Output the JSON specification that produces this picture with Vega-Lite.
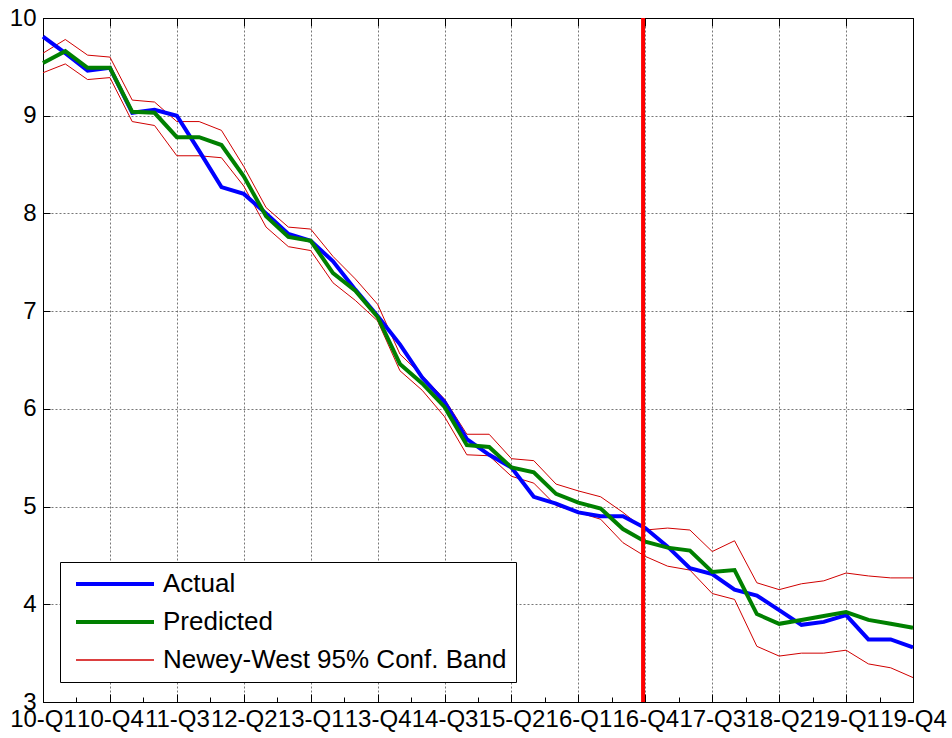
{
  "$schema": "https://vega.github.io/schema/vega-lite/v6.json",
  "width": 870,
  "height": 684,
  "autosize": {"type": "none"},
  "padding": {"left": 43, "top": 18, "right": 39, "bottom": 36},
  "background": "white",
  "config": {
    "view": {"stroke": "black", "strokeWidth": 1},
    "font": "Liberation Sans",
    "axis": {"labelFont": "Liberation Sans", "labelColor": "black", "tickColor": "black", "domainColor": "black", "title": null}
  },
  "datasets": {
    "series": [
      {"t": 0, "Actual": 9.81, "Predicted": 9.54, "Upper": 9.64, "Lower": 9.44},
      {"t": 1, "Actual": 9.64, "Predicted": 9.66, "Upper": 9.78, "Lower": 9.53},
      {"t": 2, "Actual": 9.46, "Predicted": 9.49, "Upper": 9.62, "Lower": 9.37},
      {"t": 3, "Actual": 9.49, "Predicted": 9.49, "Upper": 9.60, "Lower": 9.39},
      {"t": 4, "Actual": 9.03, "Predicted": 9.04, "Upper": 9.16, "Lower": 8.94},
      {"t": 5, "Actual": 9.06, "Predicted": 9.03, "Upper": 9.14, "Lower": 8.90},
      {"t": 6, "Actual": 9.00, "Predicted": 8.78, "Upper": 8.94, "Lower": 8.59},
      {"t": 7, "Actual": 8.64, "Predicted": 8.78, "Upper": 8.94, "Lower": 8.59},
      {"t": 8, "Actual": 8.27, "Predicted": 8.70, "Upper": 8.85, "Lower": 8.57},
      {"t": 9, "Actual": 8.20, "Predicted": 8.38, "Upper": 8.48, "Lower": 8.28},
      {"t": 10, "Actual": 8.00, "Predicted": 7.97, "Upper": 8.06, "Lower": 7.86},
      {"t": 11, "Actual": 7.79, "Predicted": 7.76, "Upper": 7.86, "Lower": 7.66},
      {"t": 12, "Actual": 7.72, "Predicted": 7.72, "Upper": 7.84, "Lower": 7.62},
      {"t": 13, "Actual": 7.51, "Predicted": 7.39, "Upper": 7.56, "Lower": 7.29},
      {"t": 14, "Actual": 7.22, "Predicted": 7.21, "Upper": 7.33, "Lower": 7.11},
      {"t": 15, "Actual": 6.95, "Predicted": 6.94, "Upper": 7.07, "Lower": 6.90},
      {"t": 16, "Actual": 6.66, "Predicted": 6.46, "Upper": 6.56, "Lower": 6.39},
      {"t": 17, "Actual": 6.32, "Predicted": 6.26, "Upper": 6.34, "Lower": 6.19},
      {"t": 18, "Actual": 6.07, "Predicted": 6.02, "Upper": 6.10, "Lower": 5.92},
      {"t": 19, "Actual": 5.69, "Predicted": 5.63, "Upper": 5.74, "Lower": 5.53},
      {"t": 20, "Actual": 5.53, "Predicted": 5.61, "Upper": 5.74, "Lower": 5.52},
      {"t": 21, "Actual": 5.40, "Predicted": 5.40, "Upper": 5.49, "Lower": 5.31},
      {"t": 22, "Actual": 5.10, "Predicted": 5.35, "Upper": 5.47, "Lower": 5.24},
      {"t": 23, "Actual": 5.03, "Predicted": 5.13, "Upper": 5.23, "Lower": 5.01},
      {"t": 24, "Actual": 4.94, "Predicted": 5.04, "Upper": 5.16, "Lower": 4.94},
      {"t": 25, "Actual": 4.90, "Predicted": 4.98, "Upper": 5.10, "Lower": 4.87},
      {"t": 26, "Actual": 4.90, "Predicted": 4.77, "Upper": 4.94, "Lower": 4.63},
      {"t": 27, "Actual": 4.78, "Predicted": 4.64, "Upper": 4.76, "Lower": 4.49},
      {"t": 28, "Actual": 4.59, "Predicted": 4.58, "Upper": 4.78, "Lower": 4.39},
      {"t": 29, "Actual": 4.37, "Predicted": 4.55, "Upper": 4.76, "Lower": 4.35},
      {"t": 30, "Actual": 4.31, "Predicted": 4.33, "Upper": 4.54, "Lower": 4.11},
      {"t": 31, "Actual": 4.15, "Predicted": 4.35, "Upper": 4.65, "Lower": 4.05},
      {"t": 32, "Actual": 4.09, "Predicted": 3.90, "Upper": 4.22, "Lower": 3.57},
      {"t": 33, "Actual": 3.94, "Predicted": 3.80, "Upper": 4.15, "Lower": 3.47},
      {"t": 34, "Actual": 3.79, "Predicted": 3.84, "Upper": 4.21, "Lower": 3.50},
      {"t": 35, "Actual": 3.82, "Predicted": 3.88, "Upper": 4.24, "Lower": 3.50},
      {"t": 36, "Actual": 3.89, "Predicted": 3.92, "Upper": 4.32, "Lower": 3.53},
      {"t": 37, "Actual": 3.64, "Predicted": 3.84, "Upper": 4.29, "Lower": 3.39},
      {"t": 38, "Actual": 3.64, "Predicted": 3.80, "Upper": 4.27, "Lower": 3.35},
      {"t": 39, "Actual": 3.56, "Predicted": 3.76, "Upper": 4.27, "Lower": 3.25}
    ],
    "marker": [{"t": 26.9}]
  },
  "data": {"name": "series"},
  "resolve": {"axis": {"x": "independent", "y": "independent"}},
  "layer": [
    {
      "mark": {"type": "line", "strokeWidth": 1},
      "encoding": {
        "x": {
          "field": "t", "type": "quantitative",
          "scale": {"domain": [0, 39], "nice": false, "zero": false},
          "axis": {
            "orient": "bottom", "values": [0, 3, 6, 9, 12, 15, 18, 21, 24, 27, 30, 33, 36, 39],
            "labelExpr": "(10 + floor(datum.value / 4)) + '-Q' + (datum.value % 4 + 1)",
            "labelFontSize": 24, "labelFlush": false, "labelOverlap": false, "labelBound": false,
            "tickSize": -8, "labelPadding": 13,
            "grid": true, "gridColor": "#555", "gridDash": [2, 2], "gridWidth": 1, "gridOpacity": 0.8
          }
        },
        "y": {
          "field": "Upper", "type": "quantitative",
          "scale": {"domain": [3, 10], "nice": false, "zero": false},
          "axis": {
            "orient": "left", "values": [3, 4, 5, 6, 7, 8, 9, 10],
            "labelFontSize": 24, "tickSize": -7, "labelPadding": 14,
            "grid": true, "gridColor": "#555", "gridDash": [2, 2], "gridWidth": 1, "gridOpacity": 0.8
          }
        },
        "color": {
          "datum": "Newey-West 95% Conf. Band", "type": "nominal",
          "scale": {"domain": ["Actual", "Predicted", "Newey-West 95% Conf. Band"], "range": ["#0000ff", "#008000", "#d00000"]},
          "legend": {
            "title": null, "orient": "none", "legendX": 17, "legendY": 544,
            "fillColor": "white", "strokeColor": "black", "padding": 9,
            "symbolType": "M-1,0H5", "symbolSize": 676, "symbolStrokeWidth": 4, "symbolOffset": 7,
            "labelOffset": 61, "labelFontSize": 26, "labelFont": "Liberation Sans", "labelColor": "black",
            "rowPadding": 12, "labelLimit": 600,
            "encode": {"symbols": {"update": {
              "strokeWidth": {"signal": "datum.value === 'Newey-West 95% Conf. Band' ? 1.5 : 4"}
            }}}
          }
        }
      }
    },
    {
      "mark": {"type": "line", "strokeWidth": 1},
      "encoding": {
        "x": {"field": "t", "type": "quantitative", "axis": null},
        "y": {"field": "Lower", "type": "quantitative", "axis": null},
        "color": {"datum": "Newey-West 95% Conf. Band", "type": "nominal"}
      }
    },
    {
      "mark": {"type": "line", "strokeWidth": 4},
      "encoding": {
        "x": {"field": "t", "type": "quantitative",
          "axis": {"orient": "top", "values": [0, 3, 6, 9, 12, 15, 18, 21, 24, 27, 30, 33, 36, 39], "labels": false, "grid": false, "tickSize": -8}},
        "y": {"field": "Actual", "type": "quantitative",
          "axis": {"orient": "right", "values": [3, 4, 5, 6, 7, 8, 9, 10], "labels": false, "grid": false, "tickSize": -7}},
        "color": {"datum": "Actual", "type": "nominal"}
      }
    },
    {
      "mark": {"type": "line", "strokeWidth": 4},
      "encoding": {
        "x": {"field": "t", "type": "quantitative",
          "axis": {"orient": "bottom", "values": [1.5, 4.5, 7.5, 10.5, 13.5, 16.5, 19.5, 22.5, 25.5, 28.5, 31.5, 34.5, 37.5], "labels": false, "grid": false, "domain": false, "tickSize": -5}},
        "y": {"field": "Predicted", "type": "quantitative", "axis": null},
        "color": {"datum": "Predicted", "type": "nominal"}
      }
    },
    {
      "data": {"name": "marker"},
      "mark": {"type": "rule", "color": "#ff0000", "strokeWidth": 4},
      "encoding": {
        "x": {"field": "t", "type": "quantitative", "axis": null}
      }
    }
  ]
}
